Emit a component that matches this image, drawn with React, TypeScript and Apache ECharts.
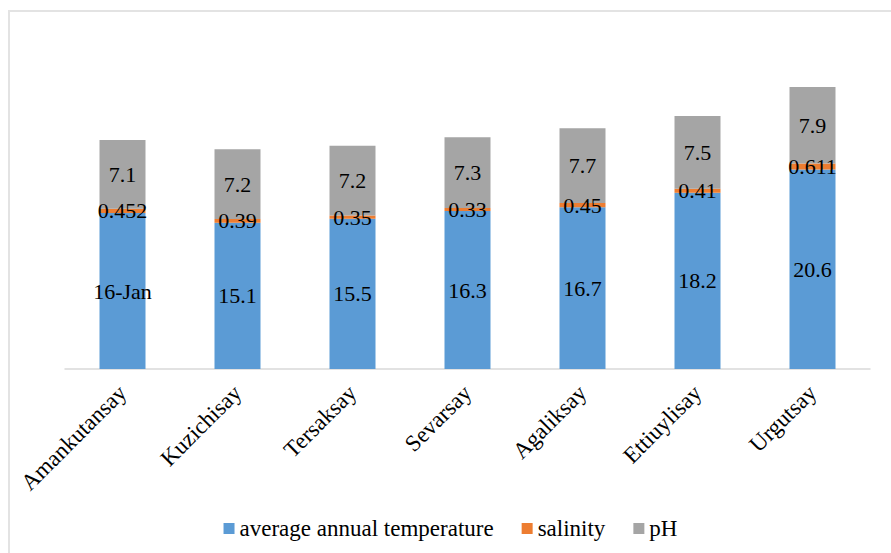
import React, { useEffect, useRef } from "react";
import * as echarts from "echarts";

const categories = ["Amankutansay", "Kuzichisay", "Tersaksay", "Sevarsay", "Agaliksay", "Ettiuylisay", "Urgutsay"];
const temperature = [16.1, 15.1, 15.5, 16.3, 16.7, 18.2, 20.6];
// the spreadsheet shows the first temperature as a date
const temperatureLabels = ["16-Jan", "15.1", "15.5", "16.3", "16.7", "18.2", "20.6"];
const salinity = [0.452, 0.39, 0.35, 0.33, 0.45, 0.41, 0.611];
const ph = [7.1, 7.2, 7.2, 7.3, 7.7, 7.5, 7.9];

const FONT = "Liberation Serif";

export default function App() {
  const ref = useRef<HTMLDivElement>(null);

  useEffect(() => {
    if (!ref.current) return;
    const chart = echarts.init(ref.current, undefined, { renderer: "svg" });
    const labelBase = {
      show: true,
      position: "inside" as const,
      color: "#000",
      fontFamily: FONT,
      fontSize: 22,
    };
    chart.setOption({
      animation: false,
      backgroundColor: "#fff",
      grid: { left: 55, right: 21, top: 18, bottom: 184, containLabel: false },
      legend: {
        top: 500,
        left: "center",
        icon: "rect",
        itemWidth: 11,
        itemHeight: 11,
        itemGap: 28,
        textStyle: { fontFamily: FONT, fontSize: 23, color: "#000" },
        data: ["average annual temperature", "salinity", "pH"],
      },
      xAxis: {
        type: "category",
        data: categories,
        axisLine: { lineStyle: { color: "#d9d9d9", width: 1.5 } },
        axisTick: { show: false },
        axisLabel: {
          rotate: 45,
          margin: 20,
          fontFamily: FONT,
          fontSize: 23,
          color: "#000",
        },
      },
      yAxis: {
        type: "value",
        min: 0,
        max: 35,
        show: false,
        splitLine: { show: false },
      },
      series: [
        {
          name: "average annual temperature",
          type: "bar",
          stack: "total",
          barWidth: 46,
          data: temperature,
          itemStyle: { color: "#5B9BD5" },
          label: {
            ...labelBase,
            formatter: (p: any) => temperatureLabels[p.dataIndex],
          },
        },
        {
          name: "salinity",
          type: "bar",
          stack: "total",
          barWidth: 46,
          data: salinity,
          itemStyle: { color: "#ED7D31" },
          label: { ...labelBase, formatter: (p: any) => String(p.value) },
        },
        {
          name: "pH",
          type: "bar",
          stack: "total",
          barWidth: 46,
          data: ph,
          itemStyle: { color: "#A5A5A5" },
          label: { ...labelBase, formatter: (p: any) => String(p.value) },
        },
      ],
    });
    return () => chart.dispose();
  }, []);

  return (
    <div
      style={{
        position: "absolute",
        left: 8,
        top: 10,
        width: 883,
        height: 543,
        boxSizing: "border-box",
        borderLeft: "2px solid #e3e3e3",
        borderTop: "2px solid #e3e3e3",
        overflow: "hidden",
        background: "#fff",
      }}
    >
      <div ref={ref} style={{ width: 881, height: 541 }} />
    </div>
  );
}
